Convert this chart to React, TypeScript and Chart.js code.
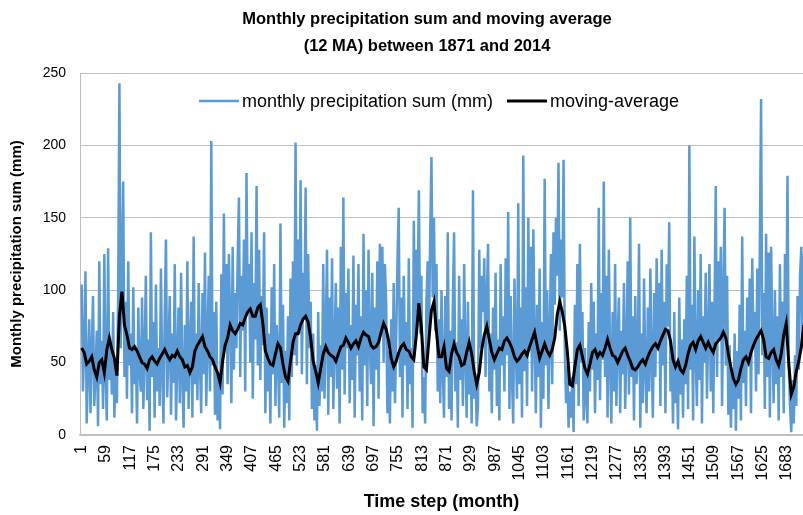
import React, { useEffect, useRef } from "react";
import { Chart, registerables } from "chart.js";

Chart.register(...registerables);

const TITLE_LINES = [
  "Monthly precipitation sum and moving average",
  "(12 MA) between 1871 and 2014",
];
const SERIES_PRECIP = "monthly precipitation sum (mm)";
const SERIES_MA = "moving-average";
const X_TITLE = "Time step (month)";
const Y_TITLE = "Monthly precipitation sum (mm)";

const X_TICKS = [
  1, 59, 117, 175, 233, 291, 349, 407, 465, 523, 581, 639, 697, 755, 813, 871,
  929, 987, 1045, 1103, 1161, 1219, 1277, 1335, 1393, 1451, 1509, 1567, 1625, 1683,
];
const Y_MIN = 0;
const Y_MAX = 250;
const Y_STEP = 50;

// precipitation read every 3rd month starting at month 1
const PRECIP_START = 1;
const PRECIP_STEP = 3;
const PRECIP = [
  104, 30, 62, 113, 8, 45, 80, 15, 58, 96, 20, 42, 72, 6, 120, 35, 65, 18, 125, 40, 10, 129, 38, 60,
  28, 85, 12, 50, 22, 98, 243, 60, 110, 175, 40, 92, 25, 120, 48, 70, 15, 102, 35, 58, 8, 88, 44, 30,
  95, 18, 55, 110, 24, 66, 3, 140, 40, 78, 12, 104, 30, 60, 20, 115, 45, 8, 82, 135, 26, 58, 96, 14,
  70, 36, 118, 10, 52, 88, 22, 112, 40, 5, 76, 30, 120, 18, 62, 92, 12, 137, 35, 70, 24, 105, 48, 15,
  98, 42, 126, 20, 65, 110, 30, 203, 48, 85, 14, 92, 10, 40, 4, 111, 28, 153, 62, 118, 35, 125, 80, 22,
  130, 45, 98, 60, 122, 164, 40, 110, 72, 135, 30, 181, 85, 118, 50, 140, 25, 105, 66, 172, 48, 128, 38, 96,
  62, 140, 15, 88, 30, 70, 8, 102, 42, 118, 20, 76, 55, 12, 146, 36, 90, 5, 58, 22, 82, 10, 108, 40,
  120, 55, 202, 48, 135, 70, 176, 42, 112, 80, 171, 35, 125, 60, 92, 18, 70, 10, 48, 3, 85, 20, 62, 30,
  118, 25, 72, 128, 14, 95, 40, 122, 18, 60, 105, 32, 88, 8, 130, 45, 164, 28, 98, 60, 115, 22, 76, 38,
  124, 12, 90, 55, 118, 30, 82, 10, 139, 48, 100, 20, 128, 62, 35, 112, 6, 88, 45, 120, 25, 132, 70, 130,
  50, 118, 92, 15, 58, 8, 80, 30, 105, 22, 66, 120, 157, 40, 95, 12, 110, 48, 78, 18, 122, 35, 60, 5,
  148, 60, 128, 85, 169, 70, 110, 15, 40, 8, 92, 120, 65, 138, 192, 95, 150, 72, 118, 30, 80, 22, 100, 45,
  12, 96, 40, 140, 18, 72, 10, 88, 140, 30, 64, 5, 110, 38, 80, 20, 118, 55, 12, 92, 28, 62, 8, 169,
  25, 40, 6, 20, 128, 60, 110, 85, 122, 40, 95, 132, 30, 70, 15, 88, 45, 112, 20, 66, 10, 118, 48, 82,
  30, 122, 55, 154, 18, 96, 40, 8, 108, 62, 25, 160, 35, 88, 12, 193, 44, 102, 20, 150, 58, 130, 30, 142,
  70, 15, 90, 40, 115, 5, 78, 25, 177, 48, 100, 18, 68, 125, 35, 140, 90, 150, 110, 188, 72, 135, 95, 190,
  60, 22, 48, 5, 30, 12, 40, 2, 90, 35, 118, 20, 132, 50, 85, 10, 60, 25, 8, 78, 30, 105, 45, 92,
  15, 70, 38, 157, 24, 98, 52, 175, 40, 110, 12, 128, 50, 8, 85, 30, 118, 20, 66, 95, 15, 72, 42, 105,
  18, 60, 120, 28, 150, 40, 82, 10, 96, 35, 55, 132, 5, 70, 22, 108, 45, 15, 88, 30, 115, 50, 12, 98,
  40, 122, 60, 105, 20, 128, 48, 92, 15, 118, 75, 147, 30, 60, 8, 85, 22, 50, 4, 95, 28, 66, 12, 80,
  35, 110, 18, 200, 45, 90, 10, 137, 55, 20, 100, 38, 125, 8, 82, 50, 112, 25, 70, 118, 30, 92, 15, 88,
  172, 40, 120, 65, 130, 20, 98, 157, 48, 110, 14, 62, 5, 45, 18, 70, 3, 58, 25, 90, 10, 137, 36, 72,
  20, 95, 48, 108, 15, 122, 60, 85, 30, 115, 42, 128, 232, 55, 98, 18, 139, 40, 126, 12, 130, 62, 22, 100,
  35, 82, 10, 118, 40, 92, 15, 125, 70, 179, 48, 20, 2, 38, 8, 55, 20, 96, 45, 110, 130, 60, 125, 70,
];

// 12-month moving average read every 6th month starting at month 1
const MA_START = 1;
const MA_STEP = 6;
const MOVING_AVG = [
  60, 57, 49, 51, 54, 45, 40, 50, 52, 43, 59, 67, 59, 53, 41, 82, 99, 76, 69, 60, 59, 61, 58, 54,
  50, 49, 46, 52, 54, 51, 49, 53, 56, 59, 55, 52, 55, 54, 58, 54, 52, 47, 48, 43, 47, 58, 62, 65,
  68, 61, 58, 54, 52, 47, 43, 36, 51, 62, 67, 76, 72, 70, 73, 77, 76, 81, 85, 87, 82, 82, 88, 90,
  77, 58, 53, 49, 48, 56, 63, 60, 49, 40, 37, 51, 64, 70, 70, 76, 80, 82, 78, 67, 51, 44, 36, 46,
  56, 61, 57, 55, 54, 51, 56, 61, 62, 67, 64, 60, 63, 65, 61, 67, 71, 69, 68, 62, 60, 61, 64, 71,
  77, 73, 65, 53, 47, 51, 57, 61, 63, 59, 58, 54, 52, 69, 91, 74, 47, 45, 66, 86, 92, 71, 54, 54,
  61, 46, 44, 56, 63, 57, 54, 48, 49, 57, 64, 56, 44, 35, 43, 59, 69, 75, 66, 57, 52, 56, 60, 59,
  65, 67, 64, 60, 54, 51, 53, 56, 58, 55, 61, 66, 71, 62, 53, 58, 63, 58, 55, 59, 67, 83, 92, 85,
  75, 58, 35, 34, 47, 59, 62, 54, 46, 42, 49, 57, 59, 54, 57, 55, 60, 66, 60, 55, 54, 50, 54, 58,
  60, 55, 51, 46, 45, 47, 50, 52, 49, 54, 58, 61, 63, 60, 65, 69, 73, 72, 65, 52, 47, 51, 45, 43,
  48, 56, 62, 64, 59, 65, 68, 64, 60, 64, 60, 57, 63, 65, 67, 71, 67, 56, 47, 39, 35, 38, 46, 52,
  54, 50, 57, 62, 66, 69, 72, 66, 54, 53, 57, 59, 52, 48, 56, 69, 77, 50, 28, 33, 44, 51, 61, 76,
];

const FONT = "'Liberation Sans', Arial, sans-serif";
const BLUE = "#5B9BD5";
const GRID = "#BFBFBF";
const LEGEND_LINE_WIDTHS = [2.5, 3];

const inlineLegend = {
  id: "inlineLegend",
  afterDatasetsDraw(chart: any) {
    const { ctx, chartArea } = chart;
    const items = chart.data.datasets.map((ds: any, i: number) => ({
      label: ds.label as string,
      color: ds.borderColor as string,
      width: LEGEND_LINE_WIDTHS[i],
    }));
    ctx.save();
    ctx.font = `18px ${FONT}`;
    const lineLen = 40;
    const gap = 3;
    const itemGap = 14;
    const widths = items.map((it: any) => lineLen + gap + ctx.measureText(it.label).width);
    const total = widths.reduce((a: number, b: number) => a + b, 0) + itemGap * (items.length - 1);
    let x = 439 - total / 2;
    const y = chartArea.top + 28;
    items.forEach((it: any, i: number) => {
      ctx.strokeStyle = it.color;
      ctx.lineWidth = it.width;
      ctx.beginPath();
      ctx.moveTo(x, y);
      ctx.lineTo(x + lineLen, y);
      ctx.stroke();
      ctx.fillStyle = "#000";
      ctx.textBaseline = "middle";
      ctx.textAlign = "left";
      ctx.fillText(it.label, x + lineLen + gap, y + 1);
      x += widths[i] + itemGap;
    });
    ctx.restore();
  },
};

const titleBlock = {
  id: "titleBlock",
  afterDraw(chart: any) {
    const { ctx } = chart;
    ctx.save();
    ctx.font = `bold 16.5px ${FONT}`;
    ctx.fillStyle = "#000";
    ctx.textAlign = "center";
    ctx.textBaseline = "middle";
    ctx.fillText(TITLE_LINES[0], 427, 19);
    ctx.fillText(TITLE_LINES[1], 427, 46);
    ctx.restore();
  },
};

export default function App() {
  const canvasRef = useRef<HTMLCanvasElement | null>(null);

  useEffect(() => {
    const canvas = canvasRef.current;
    if (!canvas) return;
    const precipData = PRECIP.map((v, i) => ({ x: PRECIP_START + i * PRECIP_STEP, y: v }));
    const maData = MOVING_AVG.map((v, i) => ({ x: MA_START + i * MA_STEP, y: v }));

    const chart = new Chart(canvas, {
      type: "line",
      data: {
        datasets: [
          {
            label: SERIES_PRECIP,
            data: precipData,
            borderColor: BLUE,
            backgroundColor: BLUE,
            borderWidth: 2.5,
            pointRadius: 0,
            tension: 0,
            order: 2,
          },
          {
            label: SERIES_MA,
            data: maData,
            borderColor: "#000000",
            backgroundColor: "#000000",
            borderWidth: 3,
            pointRadius: 0,
            tension: 0,
            order: 1,
          },
        ],
      },
      plugins: [inlineLegend, titleBlock],
      options: {
        responsive: false,
        animation: false,
        events: [],
        layout: { padding: { left: 0, right: 0, top: 73, bottom: 0 } },
        plugins: {
          title: { display: false },
          legend: { display: false },
          tooltip: { enabled: false },
        },
        scales: {
          x: {
            type: "linear",
            min: -3,
            max: 1721,
            afterBuildTicks: (axis: any) => {
              axis.ticks = X_TICKS.map((v) => ({ value: v }));
            },
            afterFit: (s: any) => {
              s.height = 80;
              s.paddingLeft = 0;
              s.paddingRight = 0;
            },
            ticks: {
              autoSkip: false,
              minRotation: 90,
              maxRotation: 90,
              padding: 10,
              color: "#000",
              font: { family: FONT, size: 16 },
              callback: (v: any) => String(v),
            },
            grid: { display: false, drawTicks: false },
            border: { display: true, color: GRID, width: 1.5 },
            title: {
              display: true,
              text: X_TITLE,
              color: "#000",
              font: { family: FONT, size: 18, weight: "bold" },
              padding: { top: 0, bottom: 2 },
            },
          },
          y: {
            min: Y_MIN,
            max: Y_MAX,
            afterFit: (s: any) => {
              s.width = 80;
              s.paddingTop = 0;
            },
            ticks: {
              stepSize: Y_STEP,
              padding: 14,
              color: "#000",
              font: { family: FONT, size: 14 },
            },
            grid: { color: GRID, drawTicks: false, lineWidth: 1 },
            border: { display: true, color: GRID, width: 1 },
            title: {
              display: true,
              text: Y_TITLE,
              color: "#000",
              font: { family: FONT, size: 15, weight: "bold" },
              padding: { top: 8, bottom: 0 },
            },
          },
        },
      },
    });
    return () => chart.destroy();
  }, []);

  return (
    <div
      style={{
        position: "fixed",
        left: 0,
        top: 0,
        width: 803,
        height: 515,
        background: "#ffffff",
      }}
    >
      <canvas ref={canvasRef} width={803} height={515} style={{ display: "block" }} />
    </div>
  );
}
